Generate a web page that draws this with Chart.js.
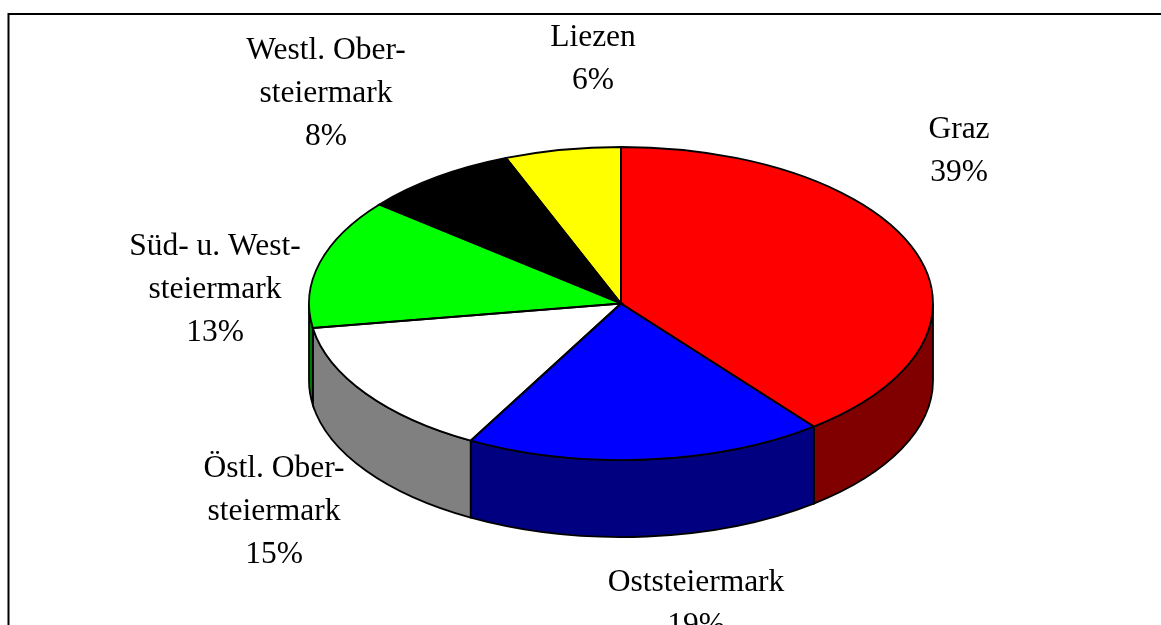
<!DOCTYPE html>
<html><head><meta charset="utf-8">
<style>html,body{margin:0;padding:0;background:#fff;overflow:hidden;height:625px}
#wrap{position:absolute;left:0;top:0;width:1161px;height:760px}</style>
<script src="https://cdn.jsdelivr.net/npm/chart.js@4/dist/chart.umd.min.js"></script>
</head><body><div id="wrap"><canvas id="c" width="1161" height="760"></canvas></div>
<script>
const categories = ["Graz","Oststeiermark","Östl. Obersteiermark","Süd- u. Weststeiermark","Westl. Obersteiermark","Liezen"];
const values = [39.4,18.6,14.5,13.4,8.1,6.0];
const labelLines = [["Graz","39%"],["Oststeiermark","19%"],["Östl. Ober-","steiermark","15%"],["Süd- u. West-","steiermark","13%"],["Westl. Ober-","steiermark","8%"],["Liezen","6%"]];
const topColors = ["#ff0000","#0000ff","#ffffff","#00ff00","#000000","#ffff00"];
const sideColors = ["#800000","#000080","#808080","#008000","#000000","#808000"];

const CX=621, CY=303.5, RX=312, RY=156.5, DEPTH=77;
const labelPos = [[959,130],[696,583],[274,469],[215,247],[326,51],[593,38]];
const LINE=43;
const FONT='31.5px "Liberation Serif"';

function squash(ctx,a){ ctx.translate(CX,CY); ctx.scale(RX/a.outerRadius,RY/a.outerRadius); ctx.translate(-a.x,-a.y); }

const pie3d = {
  id:'pie3d',
  beforeDatasetsDraw(chart){
    const ctx=chart.ctx, arcs=chart.getDatasetMeta(0).data;
    arcs.forEach((a,i)=>{
      const s=Math.max(a.startAngle,0), e=Math.min(a.endAngle,Math.PI);
      const visible=(a.startAngle<Math.PI && a.endAngle>0);
      if(!visible||e<=s) return;
      ctx.save(); squash(ctx,a);
      const d=DEPTH*a.outerRadius/RY;
      ctx.beginPath();
      ctx.arc(a.x,a.y,a.outerRadius,s,e);
      ctx.arc(a.x,a.y+d,a.outerRadius,e,s,true);
      ctx.closePath();
      ctx.restore();
      ctx.fillStyle=sideColors[i]; ctx.fill();
      ctx.strokeStyle='#000'; ctx.lineWidth=1.8; ctx.stroke();
    });
    ctx.save(); squash(ctx,arcs[0]);
  },
  afterDatasetsDraw(chart){
    const ctx=chart.ctx, arcs=chart.getDatasetMeta(0).data;
    ctx.restore();
    arcs.forEach(a=>{
      ctx.save(); squash(ctx,a);
      ctx.beginPath();
      ctx.moveTo(a.x,a.y);
      ctx.arc(a.x,a.y,a.outerRadius,a.startAngle,a.endAngle);
      ctx.closePath();
      ctx.restore();
      ctx.strokeStyle='#000'; ctx.lineWidth=1.8; ctx.stroke();
    });
    ctx.save();
    ctx.fillStyle='#000'; ctx.font=FONT; ctx.textAlign='center'; ctx.textBaseline='middle';
    labelLines.forEach((ls,i)=>ls.forEach((t,j)=>ctx.fillText(t,labelPos[i][0],labelPos[i][1]+j*LINE)));
    ctx.restore();
    ctx.strokeStyle='#000'; ctx.lineWidth=2;
    ctx.beginPath(); ctx.moveTo(8.5,800); ctx.lineTo(8.5,14); ctx.lineTo(1161,14); ctx.stroke();
  }
};

new Chart(document.getElementById('c'),{
  type:'pie',
  data:{labels:categories,datasets:[{data:values,backgroundColor:topColors,borderWidth:0}]},
  options:{responsive:false,animation:false,events:[],layout:{padding:0},
    plugins:{legend:{display:false},tooltip:{enabled:false},title:{display:false}}},
  plugins:[pie3d]
});
</script></body></html>
